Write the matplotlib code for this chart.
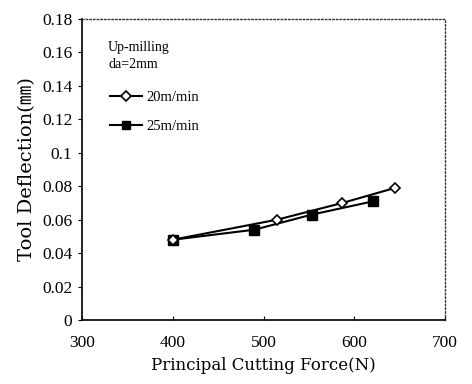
import matplotlib
matplotlib.use("Agg")
import matplotlib.pyplot as plt

force_20 = [400, 515, 587, 645]
defl_20 = [0.048, 0.060, 0.070, 0.079]
force_25 = [400, 490, 553, 621]
defl_25 = [0.048, 0.054, 0.063, 0.071]
label_20 = "20m/min"
label_25 = "25m/min"
x_ticks = [300, 400, 500, 600, 700]
y_ticks = [0, 0.02, 0.04, 0.06, 0.08, 0.1, 0.12, 0.14, 0.16, 0.18]
y_tick_labels = ["0", "0.02", "0.04", "0.06", "0.08", "0.1", "0.12", "0.14", "0.16", "0.18"]

serif = ["Liberation Serif", "Noto Sans CJK KR", "DejaVu Sans"]
lab = ["DejaVu Serif", "Noto Sans CJK KR", "DejaVu Sans"]

fig = plt.figure(figsize=(4.72, 3.84), dpi=100)
ax = fig.add_axes([82/472, 1-320/384, (445-82)/472, (320-19)/384])

ax.plot(force_20, defl_20, color="black", lw=1.5, marker="D", ms=5.5,
        mfc="white", mec="black", mew=1.2, label=label_20, zorder=3)
ax.plot(force_25, defl_25, color="black", lw=1.5, marker="s", ms=7,
        mfc="black", mec="black", label=label_25, zorder=2)

ax.set_xlim(300, 700)
ax.set_ylim(0, 0.18)
ax.set_xticks(x_ticks)
ax.set_yticks(y_ticks)
ax.set_yticklabels(y_tick_labels)
for t in ax.get_xticklabels() + ax.get_yticklabels():
    t.set_family(serif)
    t.set_fontsize(12.5)
ax.tick_params(axis="x", direction="in", length=3, pad=11)
ax.tick_params(axis="y", direction="out", length=3, pad=4)

for s in ["top", "right"]:
    ax.spines[s].set_linestyle(":")
    ax.spines[s].set_linewidth(1.0)
    ax.spines[s].set_color("#333333")
for s in ["left", "bottom"]:
    ax.spines[s].set_linewidth(1.2)

ax.set_xlabel("Principal Cutting Force(N)", family=lab, fontsize=12, labelpad=4)
ax.set_ylabel("Tool Deflection(㎜)", family=lab, fontsize=14, labelpad=4)

ax.text(0.072, 0.905, "Up-milling", transform=ax.transAxes, family=serif, fontsize=10, va="center")
ax.text(0.072, 0.85, "da=2mm", transform=ax.transAxes, family=serif, fontsize=10, va="center")

leg = ax.legend(loc="upper left", bbox_to_anchor=(0.06, 0.78), frameon=False,
                prop={"family": serif, "size": 10.5}, handlelength=2.2, markerscale=0.85,
                handletextpad=0.3, labelspacing=1.05, borderaxespad=0)

fig.savefig("out.png", dpi=100)
